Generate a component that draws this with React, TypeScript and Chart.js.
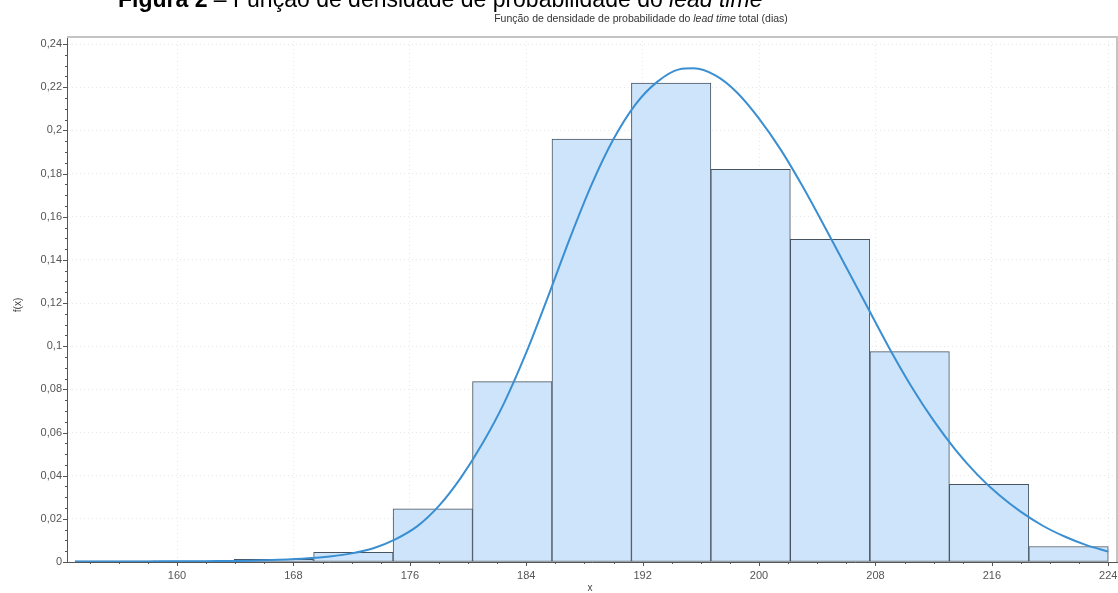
import React, { useEffect, useRef } from "react";
import { Chart, registerables } from "chart.js";

Chart.register(...registerables);

// Histogram bins (centres of the 13 classes from 153 to 224) and their heights
const binCenters = [155.73, 161.19, 166.65, 172.12, 177.58, 183.04, 188.5, 193.96, 199.42, 204.88, 210.35, 215.81, 221.27];
const binHeights = [0.0006, 0.0006, 0.0012, 0.0045, 0.0246, 0.0836, 0.196, 0.222, 0.182, 0.1495, 0.0975, 0.036, 0.0072];

// Fitted density curve
const curveX = [153, 156, 159, 162, 165, 167, 169, 170.5, 172, 173.5, 175, 176.5, 178, 179.5, 181, 182.5, 184, 185.5, 187, 188.5, 190, 191.5, 193, 194.5, 195.5, 197, 198.5, 200, 201.5, 203, 204.5, 206, 207.5, 209, 210.5, 212, 213.5, 215, 216.5, 218, 219.5, 221, 222.5, 224];
const curveY = [0.0002, 0.0002, 0.0003, 0.0004, 0.0006, 0.001, 0.0017, 0.0026, 0.004, 0.0064, 0.0105, 0.0165, 0.026, 0.039, 0.055, 0.074, 0.097, 0.123, 0.15, 0.175, 0.196, 0.212, 0.2225, 0.2283, 0.2288, 0.2255, 0.2175, 0.2055, 0.191, 0.174, 0.1555, 0.1365, 0.1175, 0.0985, 0.081, 0.0655, 0.052, 0.0405, 0.031, 0.0232, 0.0168, 0.0118, 0.0078, 0.0048];

const xMin = 152.44;
const xMax = 224.6;
const yMin = 0;
const yMax = 0.2433;
const xStep = 8;
const yStep = 0.02;

const caption = { bold: "Figura 2", plain: " \u2013 Fun\u00e7\u00e3o de densidade de probabilidade do ", italic: "lead time" };
const chartTitle = { a: "Fun\u00e7\u00e3o de densidade de probabilidade do ", b: "lead time", c: " total (dias)" };
const xTitle = "x";
const yTitle = "f(x)";

const FONT = "'Liberation Sans', Arial, sans-serif";

const fmt = (v: number) => {
  const r = Math.round(v * 100) / 100;
  return String(r).replace(".", ",");
};

const decorPlugin = {
  id: "decor",
  afterDraw(chart: any) {
    const ctx = chart.ctx;
    const a = chart.chartArea;
    const xs = chart.scales.x;
    const ys = chart.scales.y;
    ctx.save();
    // frame top / right
    ctx.strokeStyle = "#c4c4c4";
    ctx.lineWidth = 2;
    ctx.beginPath();
    ctx.moveTo(a.left, a.top);
    ctx.lineTo(a.right, a.top);
    ctx.lineTo(a.right, a.bottom);
    ctx.stroke();
    // axis ticks (major + minor)
    ctx.strokeStyle = "#555";
    ctx.lineWidth = 1;
    ctx.beginPath();
    for (let v = 152; v <= xMax; v += 2) {
      if (v < xMin) continue;
      const px = Math.round(xs.getPixelForValue(v)) + 0.5;
      const len = v % 8 === 0 ? 4 : 2;
      ctx.moveTo(px, a.bottom);
      ctx.lineTo(px, a.bottom + len);
    }
    for (let i = 0; i <= Math.round(yMax / 0.005); i++) {
      const v = i * 0.005;
      if (v > yMax) break;
      const py = Math.round(ys.getPixelForValue(v)) + 0.5;
      const len = i % 4 === 0 ? 4 : 2;
      ctx.moveTo(a.left, py);
      ctx.lineTo(a.left - len, py);
    }
    ctx.stroke();

    // small chart title
    ctx.fillStyle = "#333";
    ctx.textBaseline = "middle";
    const tn = `10.5px ${FONT}`;
    const ti = `italic 10.5px ${FONT}`;
    ctx.font = tn;
    const wa = ctx.measureText(chartTitle.a).width;
    const wc = ctx.measureText(chartTitle.c).width;
    ctx.font = ti;
    const wb = ctx.measureText(chartTitle.b).width;
    let tx = 641 - (wa + wb + wc) / 2;
    const ty = 19;
    ctx.textAlign = "left";
    ctx.font = tn;
    ctx.fillText(chartTitle.a, tx, ty);
    tx += wa;
    ctx.font = ti;
    ctx.fillText(chartTitle.b, tx, ty);
    tx += wb;
    ctx.font = tn;
    ctx.fillText(chartTitle.c, tx, ty);

    // caption (cut at top)
    ctx.fillStyle = "#000";
    ctx.textBaseline = "alphabetic";
    let cx = 118;
    const cy = 7;
    ctx.font = `bold 23px ${FONT}`;
    ctx.fillText(caption.bold, cx, cy);
    cx += ctx.measureText(caption.bold).width;
    ctx.font = `23px ${FONT}`;
    ctx.fillText(caption.plain, cx, cy);
    cx += ctx.measureText(caption.plain).width;
    ctx.font = `italic 23px ${FONT}`;
    ctx.fillText(caption.italic, cx, cy);

    // axis titles
    ctx.fillStyle = "#444";
    ctx.font = `10px ${FONT}`;
    ctx.textAlign = "center";
    ctx.textBaseline = "middle";
    ctx.fillText(xTitle, 590, 588);
    ctx.save();
    ctx.translate(18, 305);
    ctx.rotate(-Math.PI / 2);
    ctx.fillText(yTitle, 0, 0);
    ctx.restore();
    ctx.restore();
  },
};

export default function App() {
  const ref = useRef<HTMLCanvasElement | null>(null);
  useEffect(() => {
    if (!ref.current) return;
    const chart = new Chart(ref.current, {
      data: {
        datasets: [
          {
            type: "line",
            data: curveX.map((x, i) => ({ x, y: curveY[i] })),
            borderColor: "#3a8fd3",
            borderWidth: 2,
            pointRadius: 0,
            cubicInterpolationMode: "monotone",
            fill: false,
            order: 0,
          } as any,
          {
            type: "bar",
            data: binCenters.map((x, i) => ({ x, y: binHeights[i] })),
            backgroundColor: "#cde4fa",
            borderColor: "#47535f",
            borderWidth: 1,
            borderSkipped: false,
            barPercentage: 1,
            categoryPercentage: 1,
            order: 1,
          } as any,
        ],
      },
      plugins: [decorPlugin],
      options: {
        animation: false,
        responsive: false,
        maintainAspectRatio: false,
        layout: { autoPadding: false, padding: { left: 0, right: 1, top: 37, bottom: 0 } },
        plugins: { legend: { display: false }, tooltip: { enabled: false }, title: { display: false } },
        scales: {
          x: {
            type: "linear",
            offset: false,
            min: xMin,
            max: xMax,
            afterFit: (s: any) => { s.height = 31; s.paddingLeft = 0; s.paddingRight = 0; },
            ticks: {
              stepSize: xStep,
              includeBounds: false,
              padding: 7,
              color: "#555",
              font: { family: FONT, size: 11 },
              maxRotation: 0,
              callback: (v: any) => String(v),
            },
            grid: { offset: false, drawTicks: false, color: "rgba(0,0,0,0.09)", lineWidth: 1 },
            border: { display: true, color: "#555", width: 1, dash: [1, 3] },
          },
          y: {
            type: "linear",
            min: yMin,
            max: yMax,
            afterFit: (s: any) => { s.width = 67; s.paddingTop = 0; s.paddingBottom = 0; },
            ticks: {
              stepSize: yStep,
              includeBounds: false,
              padding: 5,
              color: "#555",
              font: { family: FONT, size: 11 },
              callback: (v: any) => fmt(Number(v)),
            },
            grid: { drawTicks: false, color: "rgba(0,0,0,0.09)", lineWidth: 1 },
            border: { display: true, color: "#555", width: 1, dash: [1, 3] },
          },
        },
      } as any,
    });
    return () => chart.destroy();
  }, []);
  return (
    <div style={{ position: "absolute", left: 0, top: 0, width: 1118, height: 593, background: "#fff" }}>
      <canvas ref={ref} width={1118} height={593} style={{ display: "block" }} />
    </div>
  );
}
